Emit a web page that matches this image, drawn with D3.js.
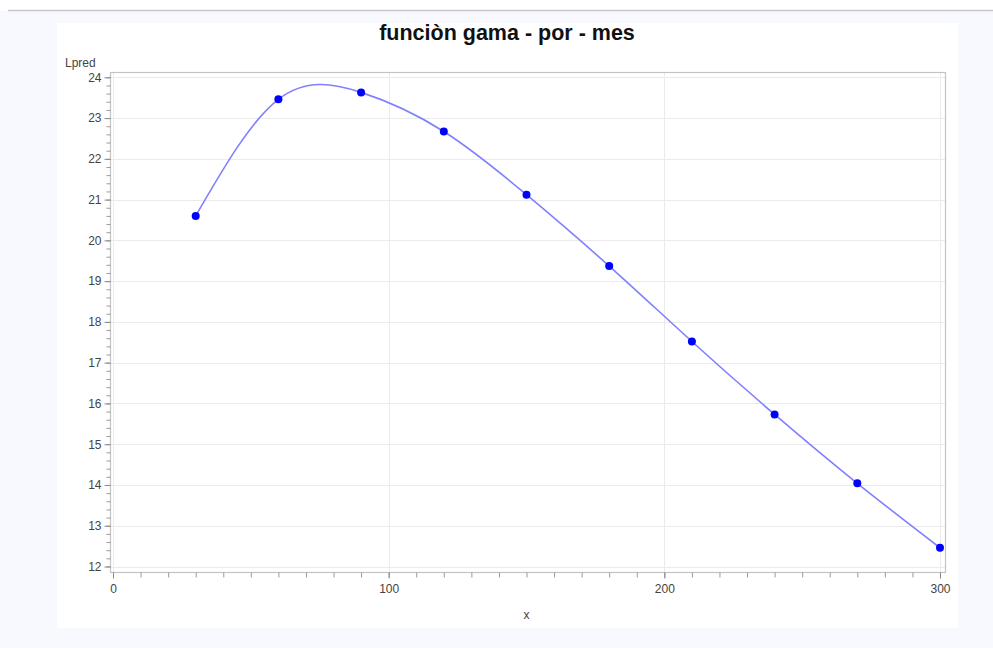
<!DOCTYPE html>
<html>
<head>
<meta charset="utf-8">
<script src="https://cdn.jsdelivr.net/npm/d3@7"></script>
<style>
  html, body { margin: 0; padding: 0; background: #ffffff; }
  svg { display: block; font-family: "Liberation Sans", Arial, sans-serif; }
</style>
</head>
<body>
<svg id="chart" width="993" height="648"></svg>
<script>
// Monthly predicted values of the gamma curve
const months = [30, 60, 90, 120, 150, 180, 210, 240, 270, 300];
const lpred = [20.60, 23.46, 23.63, 22.67, 21.12, 19.37, 17.52, 15.73, 14.04, 12.46];

const xTicks = [0, 100, 200, 300];
const yTicks = [12, 13, 14, 15, 16, 17, 18, 19, 20, 21, 22, 23, 24];

const titleText = "funciòn gama - por - mes";
const xLabel = "x";
const yLabel = "Lpred";

const svg = d3.select("#chart");

// page backdrop, top rule and white panel
svg.append("rect").attr("x", 0).attr("y", 11).attr("width", 993).attr("height", 637).attr("fill", "#f8f9fe");
svg.append("line").attr("x1", 8).attr("x2", 993).attr("y1", 10.5).attr("y2", 10.5)
  .attr("stroke", "#c8c8c8").attr("stroke-width", 1.5);
svg.append("rect").attr("x", 57).attr("y", 23).attr("width", 901).attr("height", 605).attr("fill", "#ffffff");

// plot frame
const frame = { left: 110, top: 72, right: 945, bottom: 572 };

const x = d3.scaleLinear().domain([0, 300]).range([113, 940]);
const y = d3.scaleLinear().domain([12, 24]).range([566.5, 77.3]);

// gridlines
const grid = svg.append("g");
grid.selectAll(".gy").data(yTicks).join("line")
  .attr("x1", frame.left).attr("x2", frame.right)
  .attr("y1", d => Math.round(y(d)) + 0.5).attr("y2", d => Math.round(y(d)) + 0.5)
  .attr("stroke", "#ebebeb").attr("stroke-width", 1);
grid.selectAll(".gx").data(xTicks).join("line")
  .attr("y1", frame.top).attr("y2", frame.bottom)
  .attr("x1", d => Math.round(x(d)) + 0.5).attr("x2", d => Math.round(x(d)) + 0.5)
  .attr("stroke", "#ebebeb").attr("stroke-width", 1);

svg.append("rect")
  .attr("x", frame.left + 0.5).attr("y", frame.top + 0.5)
  .attr("width", frame.right - frame.left).attr("height", frame.bottom - frame.top)
  .attr("fill", "none").attr("stroke", "#c4c4c4").attr("stroke-width", 1.2);

// x axis: major and minor ticks
const xAxisG = svg.append("g").attr("transform", `translate(0,${frame.bottom + 0.5})`);
xAxisG.call(d3.axisBottom(x).tickValues(d3.range(0, 301, 10)).tickSize(5).tickFormat(""))
  .call(g => g.select(".domain").remove())
  .call(g => g.selectAll("line").attr("stroke", "#9a9a9a"));
const xMajor = svg.append("g").attr("transform", `translate(0,${frame.bottom + 0.5})`);
xMajor.call(d3.axisBottom(x).tickValues(xTicks).tickSize(6).tickPadding(6).tickFormat(d3.format("d")))
  .call(g => g.select(".domain").remove())
  .call(g => g.selectAll("line").attr("stroke", "#8a8a8a"))
  .call(g => g.selectAll("text").attr("fill", "#444").style("font-size", "12px")
    .style("font-family", "'Liberation Sans', Arial, sans-serif"));

// y axis: major and minor ticks
const yMinor = svg.append("g").attr("transform", `translate(${frame.left + 0.5},0)`);
yMinor.call(d3.axisLeft(y).tickValues(d3.range(12, 24.01, 0.2)).tickSize(4).tickFormat(""))
  .call(g => g.select(".domain").remove())
  .call(g => g.selectAll("line").attr("stroke", "#9a9a9a"));
const yMajor = svg.append("g").attr("transform", `translate(${frame.left + 0.5},0)`);
yMajor.call(d3.axisLeft(y).tickValues(yTicks).tickSize(6).tickPadding(3).tickFormat(d3.format("d")))
  .call(g => g.select(".domain").remove())
  .call(g => g.selectAll("line").attr("stroke", "#8a8a8a"))
  .call(g => g.selectAll("text").attr("fill", "#444").style("font-size", "12px")
    .style("font-family", "'Liberation Sans', Arial, sans-serif"));

// fitted curve
const line = d3.line()
  .x((d, i) => x(months[i]))
  .y(d => y(d))
  .curve(d3.curveNatural);
svg.append("path")
  .datum(lpred)
  .attr("d", line)
  .attr("fill", "none")
  .attr("stroke", "#8080ff")
  .attr("stroke-width", 1.6);

// monthly markers
svg.selectAll(".pt").data(lpred).join("circle")
  .attr("cx", (d, i) => x(months[i]))
  .attr("cy", d => y(d))
  .attr("r", 4)
  .attr("fill", "#0000ff");

// texts
svg.append("text").attr("x", 507).attr("y", 40).attr("text-anchor", "middle")
  .style("font-size", "21.5px").style("font-weight", "bold").attr("fill", "#111")
  .text(titleText);
svg.append("text").attr("x", 65).attr("y", 67)
  .style("font-size", "12px").attr("fill", "#444").text(yLabel);
svg.append("text").attr("x", 526.5).attr("y", 619).attr("text-anchor", "middle")
  .style("font-size", "12px").attr("fill", "#444").text(xLabel);
</script>
</body>
</html>
